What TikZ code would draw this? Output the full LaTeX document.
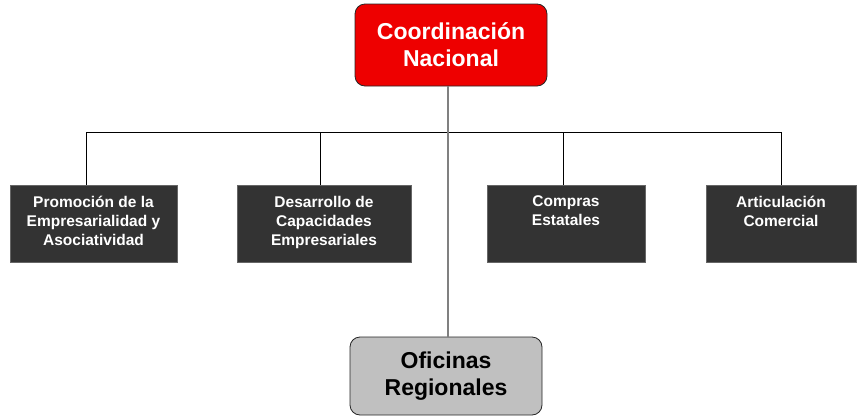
\documentclass[tikz,border=0pt]{standalone}
\usepackage{fontspec}
\setmainfont{Liberation Sans}
\definecolor{redbox}{HTML}{EE0000}
\definecolor{darkbox}{HTML}{333333}
\definecolor{greybox}{HTML}{C0C0C0}
\definecolor{spinegrey}{HTML}{808080}
\begin{document}
\begin{tikzpicture}[x=1pt,y=1pt,
  bigbox/.style={draw=black!85, line width=0.8pt, rounded corners=10pt, minimum width=192pt,
    align=center, font=\bfseries\fontsize{23}{27}\selectfont, inner sep=0pt},
  unitbox/.style={draw=black!60, line width=0.6pt, fill=darkbox, text=white, minimum height=77pt,
    align=center, font=\bfseries\fontsize{15.5}{19}\selectfont, inner sep=0pt},
  unittext/.style={text=white, align=center, font=\bfseries\fontsize{15.5}{19}\selectfont, anchor=north, inner sep=0pt},
  bus/.style={draw=black, line width=0.8pt},
  spine/.style={draw=spinegrey, line width=1.6pt}]
\useasboundingbox (0,0) rectangle (857,-418);
% top and bottom boxes
\node[bigbox, fill=redbox, text=white, minimum height=82pt] (top) at (451,-45) {Coordinación\\Nacional};
\node[bigbox, fill=greybox, text=black, minimum height=78pt] (ofi) at (446,-376) {Oficinas\\Regionales};
% unit boxes
\node[unitbox, minimum width=167pt] (b1) at (93.5,-223.5) {};
\node[unitbox, minimum width=174pt] (b2) at (324,-223.5) {};
\node[unitbox, minimum width=158pt] (b3) at (566,-223.5) {};
\node[unitbox, minimum width=150pt] (b4) at (781,-223.5) {};
\node[unittext] (t1) at ([yshift=-11pt]b1.north) {Promoción de la\\Empresarialidad y\\Asociatividad};
\node[unittext] (t2) at ([yshift=-11pt]b2.north) {Desarrollo de\\Capacidades\\Empresariales};
\node[unittext] (t3) at ([yshift=-11pt]b3.north) {Compras\\Estatales};
\node[unittext] (t4) at ([yshift=-11pt]b4.north) {Articulación\\Comercial};
% connectors
\draw[bus] ([xshift=-7.5pt]b1.north) -- ++(0,52) -| (b4.north);
\draw[bus] ([xshift=-4pt]b2.north) -- ++(0,52);
\draw[bus] ([xshift=-3pt]b3.north) -- ++(0,52);
\draw[spine] ([xshift=-3pt]top.south) -- ([xshift=2pt]ofi.north);
\end{tikzpicture}
\end{document}
